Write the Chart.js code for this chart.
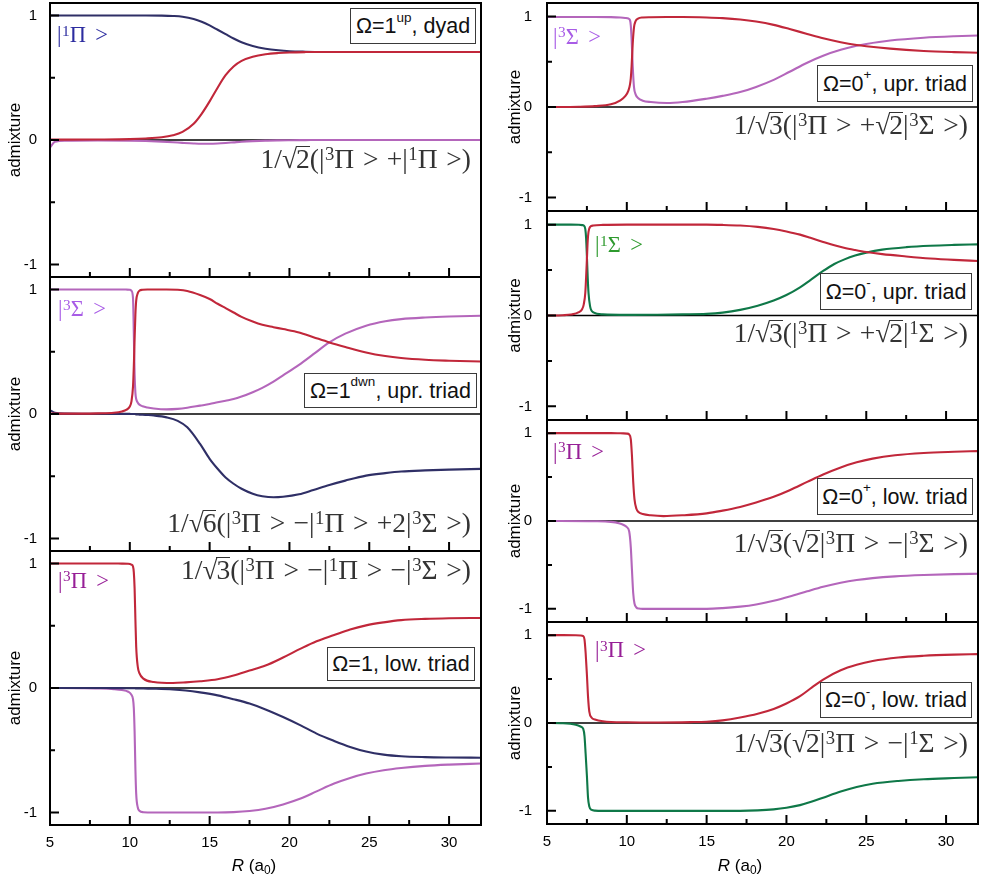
<!DOCTYPE html>
<html>
<head>
<meta charset="utf-8">
<script src="https://cdn.jsdelivr.net/npm/chart.js@4.4.1/dist/chart.umd.min.js"></script>
<style>
 html,body{margin:0;padding:0;background:#fff;}
 #wrap{position:relative;width:981px;height:882px;overflow:hidden;background:#fff;}
 #wrap canvas{position:absolute;}
 .box{position:absolute;box-sizing:border-box;border:1.5px solid #3a3a3a;background:#fff;font-family:'Liberation Sans',Arial,sans-serif;font-size:21.5px;color:#111;display:flex;align-items:center;justify-content:center;white-space:nowrap;line-height:24px;}
 .box sup{font-size:13.5px;line-height:0;position:relative;top:-8.5px;vertical-align:baseline;}
 .math{position:absolute;font-family:'Liberation Serif','Times New Roman',serif;font-size:27.5px;color:#333;white-space:nowrap;line-height:30px;}
 .ket{position:absolute;font-family:'Liberation Serif','Times New Roman',serif;font-size:22.5px;white-space:nowrap;line-height:24px;}
 .math sup,.ket sup{font-size:0.68em;line-height:0;position:relative;top:-0.42em;vertical-align:baseline;margin-left:0.03em;}
 .rel{margin-left:0.32em;}
 .ket .rel{margin-left:0.42em;}
 .op{margin-left:0.3em;}
 .rn{display:inline-block;line-height:0.78em;border-top:1.4px solid currentColor;padding-top:0.05em;margin-left:-0.04em;}
 .xt{position:absolute;width:120px;text-align:center;font-family:'Liberation Sans',Arial,sans-serif;font-size:17px;line-height:20px;color:#000;}
 .xt sub{font-size:0.7em;line-height:0;position:relative;top:0.25em;vertical-align:baseline;}
</style>
</head>
<body>
<div id="wrap"></div>
<script>
// ---------- tick values ----------
const xMajorTicks = [5, 10, 15, 20, 25, 30];
const xMinorTicks = [7.5, 12.5, 17.5, 22.5, 27.5];
const yMajorTicks = [-1, 0, 1];
const yMinorTicks = [-0.5, 0.5];

// ---------- left column, panel 1 : Omega=1 up, dyad ----------
const R_L1      = [5, 5.3, 6, 8, 10, 11, 12, 12.7, 13.3, 14, 14.5, 15, 15.5, 16, 16.5, 17, 17.7, 18.5, 19.3, 20, 21, 22, 24, 28, 32];
const L1_red    = [0.003, 0.003, 0.003, 0.004, 0.007, 0.012, 0.022, 0.038, 0.065, 0.13, 0.21, 0.31, 0.42, 0.52, 0.59, 0.635, 0.668, 0.688, 0.698, 0.703, 0.706, 0.707, 0.707, 0.707, 0.707];
const L1_navy   = [1, 1, 1, 1, 1, 1, 0.999, 0.996, 0.99, 0.972, 0.95, 0.92, 0.885, 0.85, 0.815, 0.785, 0.755, 0.733, 0.72, 0.713, 0.709, 0.707, 0.707, 0.707, 0.707];
const L1_purple = [-0.06, -0.015, -0.005, -0.003, -0.005, -0.008, -0.013, -0.018, -0.023, -0.028, -0.03, -0.03, -0.028, -0.024, -0.019, -0.014, -0.009, -0.005, -0.003, -0.002, -0.001, 0, 0, 0, 0];

// ---------- left column, panel 2 : Omega=1 dwn, upper triad ----------
const R_L2      = [5, 5.3, 6, 7, 8, 9, 9.5, 9.8, 10, 10.1, 10.2, 10.25, 10.3, 10.35, 10.4, 10.5, 10.6, 10.8, 11.1, 11.5, 12.3, 13, 13.6, 14.4, 15, 15.5, 16, 16.5, 17, 17.7, 18.3, 19, 19.6, 20.6, 21.5, 22.5, 23.5, 24.8, 26, 27, 28.5, 30, 32];
const L2_red    = [0.003, 0.003, 0.003, 0.003, 0.005, 0.01, 0.02, 0.035, 0.06, 0.1, 0.22, 0.38, 0.6, 0.8, 0.91, 0.97, 0.99, 0.997, 1, 1, 1, 0.997, 0.987, 0.955, 0.923, 0.885, 0.85, 0.815, 0.78, 0.742, 0.716, 0.697, 0.682, 0.655, 0.617, 0.575, 0.538, 0.494, 0.465, 0.449, 0.435, 0.428, 0.422];
const L2_purple = [1, 1, 1, 1, 1, 1, 1, 0.999, 0.997, 0.99, 0.93, 0.65, 0.32, 0.17, 0.12, 0.09, 0.075, 0.062, 0.052, 0.044, 0.037, 0.041, 0.05, 0.067, 0.08, 0.094, 0.107, 0.12, 0.14, 0.175, 0.21, 0.26, 0.31, 0.395, 0.48, 0.575, 0.645, 0.709, 0.745, 0.762, 0.775, 0.783, 0.789];
const L2_navy   = [0.03, 0.01, 0.003, 0.002, 0.002, 0.001, 0.001, 0.001, 0.001, 0, 0, 0, 0, -0.002, -0.003, -0.004, -0.005, -0.006, -0.008, -0.012, -0.027, -0.055, -0.107, -0.24, -0.36, -0.44, -0.51, -0.56, -0.6, -0.64, -0.66, -0.669, -0.665, -0.645, -0.61, -0.57, -0.535, -0.495, -0.475, -0.462, -0.453, -0.447, -0.441];

// ---------- left column, panel 3 : Omega=1, lower triad ----------
const R_L3      = [5, 7, 8, 9, 9.5, 9.9, 10.1, 10.2, 10.25, 10.3, 10.35, 10.4, 10.5, 10.6, 10.85, 11.5, 12.7, 13.5, 14.4, 15.5, 16.5, 17.5, 18.5, 19.6, 20.7, 21.7, 22.8, 23.8, 24.8, 25.9, 27, 28.5, 30, 32];
const L3_red    = [1, 1, 1, 1, 0.999, 0.998, 0.99, 0.975, 0.93, 0.8, 0.55, 0.33, 0.17, 0.12, 0.075, 0.048, 0.04, 0.045, 0.054, 0.07, 0.1, 0.14, 0.18, 0.245, 0.316, 0.375, 0.425, 0.47, 0.503, 0.527, 0.545, 0.555, 0.56, 0.562];
const L3_navy   = [0, 0, 0, -0.001, -0.001, -0.002, -0.002, -0.002, -0.002, -0.002, -0.003, -0.003, -0.003, -0.003, -0.004, -0.006, -0.012, -0.02, -0.035, -0.059, -0.09, -0.125, -0.172, -0.233, -0.3, -0.366, -0.425, -0.473, -0.51, -0.535, -0.548, -0.555, -0.558, -0.56];
const L3_purple = [0, -0.002, -0.004, -0.009, -0.016, -0.03, -0.055, -0.09, -0.16, -0.35, -0.65, -0.85, -0.96, -0.985, -0.997, -1, -1, -1, -1, -1, -0.997, -0.988, -0.97, -0.935, -0.888, -0.83, -0.767, -0.722, -0.687, -0.66, -0.642, -0.625, -0.615, -0.606];

// ---------- right column, panel 1 : Omega=0+, upper triad ----------
const R_R1      = [5, 7, 8, 9, 9.6, 9.9, 10.1, 10.2, 10.25, 10.3, 10.37, 10.45, 10.55, 10.7, 11, 11.5, 12.5, 13.5, 15, 16, 17.1, 18.1, 19.2, 20.2, 21.3, 22.3, 23.4, 24.4, 25, 26.5, 28.6, 30.5, 32];
const R1_red    = [0, 0.003, 0.01, 0.03, 0.074, 0.12, 0.18, 0.25, 0.32, 0.45, 0.7, 0.88, 0.95, 0.978, 0.99, 0.993, 0.995, 0.995, 0.99, 0.983, 0.968, 0.945, 0.908, 0.862, 0.808, 0.76, 0.717, 0.686, 0.672, 0.645, 0.62, 0.607, 0.6];
const R1_purple = [0.995, 0.995, 0.995, 0.994, 0.99, 0.985, 0.978, 0.96, 0.9, 0.75, 0.45, 0.22, 0.14, 0.1, 0.07, 0.055, 0.044, 0.055, 0.092, 0.123, 0.165, 0.222, 0.3, 0.39, 0.49, 0.567, 0.632, 0.677, 0.697, 0.735, 0.766, 0.782, 0.79];

// ---------- right column, panel 2 : Omega=0-, upper triad ----------
const R_R2      = [5, 6, 6.5, 7, 7.2, 7.3, 7.4, 7.45, 7.5, 7.55, 7.6, 7.7, 7.9, 8.5, 10, 11.9, 13.5, 15, 16, 17.1, 18.2, 19.2, 20, 20.85, 21.5, 22.3, 23, 23.6, 24.3, 25, 26, 27.5, 29, 30.5, 32];
const R2_red    = [0, 0.003, 0.01, 0.037, 0.07, 0.12, 0.25, 0.42, 0.62, 0.82, 0.92, 0.975, 0.99, 0.997, 1, 1, 1, 1, 0.997, 0.99, 0.975, 0.952, 0.925, 0.89, 0.855, 0.81, 0.772, 0.745, 0.72, 0.698, 0.675, 0.65, 0.628, 0.612, 0.6];
const R2_green  = [1, 1, 1, 0.998, 0.995, 0.99, 0.95, 0.85, 0.65, 0.42, 0.25, 0.1, 0.035, 0.012, 0.007, 0.008, 0.012, 0.018, 0.032, 0.062, 0.108, 0.165, 0.225, 0.31, 0.39, 0.49, 0.567, 0.615, 0.66, 0.692, 0.725, 0.752, 0.768, 0.777, 0.783];

// ---------- right column, panel 3 : Omega=0+, lower triad ----------
const R_R3      = [5, 8, 9, 9.5, 9.8, 10, 10.15, 10.25, 10.32, 10.4, 10.48, 10.6, 10.75, 11, 11.5, 12.3, 13.5, 15, 16, 17.1, 18.1, 19.2, 20.2, 21.3, 22.3, 23.4, 24.4, 25.4, 26.8, 28.6, 30.5, 32];
const R3_red    = [1, 1, 1, 0.999, 0.998, 0.995, 0.985, 0.93, 0.75, 0.45, 0.25, 0.14, 0.1, 0.08, 0.065, 0.056, 0.065, 0.087, 0.118, 0.16, 0.21, 0.275, 0.35, 0.445, 0.53, 0.61, 0.668, 0.71, 0.748, 0.774, 0.788, 0.796];
const R3_purple = [0, -0.003, -0.01, -0.025, -0.045, -0.07, -0.12, -0.3, -0.55, -0.82, -0.94, -0.985, -0.997, -1, -1, -1, -1, -1, -0.992, -0.975, -0.95, -0.908, -0.86, -0.8, -0.748, -0.703, -0.672, -0.65, -0.63, -0.615, -0.605, -0.6];

// ---------- right column, panel 4 : Omega=0-, lower triad ----------
const R_R4      = [5, 6, 6.8, 7.1, 7.27, 7.35, 7.42, 7.5, 7.57, 7.65, 7.8, 8, 8.5, 10, 12, 14, 15, 16, 17.1, 18.2, 19.2, 20, 20.85, 21.6, 22.3, 23.4, 24.4, 25.4, 27, 28.6, 30.5, 32];
const R4_red    = [1, 1, 0.999, 0.997, 0.99, 0.95, 0.8, 0.55, 0.3, 0.13, 0.06, 0.04, 0.02, 0.008, 0.006, 0.01, 0.015, 0.03, 0.062, 0.105, 0.16, 0.222, 0.305, 0.405, 0.495, 0.6, 0.662, 0.705, 0.745, 0.765, 0.778, 0.784];
const R4_green  = [0, -0.003, -0.02, -0.04, -0.068, -0.15, -0.35, -0.6, -0.85, -0.95, -0.99, -0.998, -1, -1, -1, -1, -1, -1, -1, -0.995, -0.983, -0.965, -0.935, -0.895, -0.85, -0.78, -0.728, -0.692, -0.66, -0.64, -0.627, -0.618];

// ---------- colours ----------
const C_RED = '#c1273a', C_NAVY = '#2f2f66', C_PURPLE = '#b466bb', C_GREEN = '#0f7848';

// ---------- layout of the panels ----------
const COLS = [
  {canvasLeft: 0,   canvasWidth: 490, areaLeft: 50,  areaRight: 481, tickPad: 13, titlePad: 5},
  {canvasLeft: 490, canvasWidth: 491, areaLeft: 547, areaRight: 978, tickPad: 15, titlePad: 15}
];
const panelDefs = [
  {col: 0, top: 3,   bottom: 277, ymin: -1.1,  ymax: 1.1,  axis: false, ds: [[R_L1, L1_red, C_RED], [R_L1, L1_navy, C_NAVY], [R_L1, L1_purple, C_PURPLE]]},
  {col: 0, top: 277, bottom: 551, ymin: -1.1,  ymax: 1.1,  axis: false, ds: [[R_L2, L2_red, C_RED], [R_L2, L2_purple, C_PURPLE], [R_L2, L2_navy, C_NAVY]]},
  {col: 0, top: 551, bottom: 825, ymin: -1.1,  ymax: 1.1,  axis: true,  ds: [[R_L3, L3_red, C_RED], [R_L3, L3_navy, C_NAVY], [R_L3, L3_purple, C_PURPLE]]},
  {col: 1, top: 3,   bottom: 211, ymin: -1.15, ymax: 1.15, axis: false, ds: [[R_R1, R1_red, C_RED], [R_R1, R1_purple, C_PURPLE]]},
  {col: 1, top: 211, bottom: 420, ymin: -1.15, ymax: 1.15, axis: false, ds: [[R_R2, R2_red, C_RED], [R_R2, R2_green, C_GREEN]]},
  {col: 1, top: 420, bottom: 622, ymin: -1.15, ymax: 1.15, axis: false, ds: [[R_R3, R3_red, C_RED], [R_R3, R3_purple, C_PURPLE]]},
  {col: 1, top: 622, bottom: 824, ymin: -1.15, ymax: 1.15, axis: true,  ds: [[R_R4, R4_red, C_RED], [R_R4, R4_green, C_GREEN]]}
];

const FONT_SANS = "'Liberation Sans', Arial, sans-serif";

const framePlugin = {
  id: 'frame',
  beforeDatasetsDraw(chart) {
    const {ctx, chartArea: a, scales: {y}} = chart;
    const y0 = y.getPixelForValue(0);
    ctx.save();
    ctx.strokeStyle = '#000';
    ctx.lineWidth = 1.6;
    ctx.beginPath(); ctx.moveTo(a.left, y0); ctx.lineTo(a.right, y0); ctx.stroke();
    ctx.restore();
  },
  afterDatasetsDraw(chart) {
    const {ctx, chartArea: a, scales: {x, y}} = chart;
    ctx.save();
    ctx.strokeStyle = '#000';
    ctx.lineWidth = 2;
    ctx.beginPath();
    xMajorTicks.forEach(v => { const p = x.getPixelForValue(v); ctx.moveTo(p, a.bottom); ctx.lineTo(p, a.bottom - 9); });
    xMinorTicks.forEach(v => { const p = x.getPixelForValue(v); ctx.moveTo(p, a.bottom); ctx.lineTo(p, a.bottom - 5); });
    yMajorTicks.forEach(v => { const p = y.getPixelForValue(v); ctx.moveTo(a.left, p); ctx.lineTo(a.left + 9, p); });
    yMinorTicks.forEach(v => { const p = y.getPixelForValue(v); ctx.moveTo(a.left, p); ctx.lineTo(a.left + 5, p); });
    ctx.stroke();
    ctx.strokeRect(a.left, a.top, a.right - a.left, a.bottom - a.top);
    ctx.restore();
  }
};

const wrap = document.getElementById('wrap');

panelDefs.forEach(p => {
  const c = COLS[p.col];
  const padT = 6;
  const cTop = p.top - padT;
  const cHeight = p.axis ? 882 - cTop : (p.bottom - p.top) + 12;
  const padB = p.axis ? 882 - p.bottom : 6;
  const padL = c.areaLeft - c.canvasLeft;
  const padR = c.canvasLeft + c.canvasWidth - c.areaRight;
  const cv = document.createElement('canvas');
  cv.width = c.canvasWidth; cv.height = cHeight;
  cv.style.left = c.canvasLeft + 'px'; cv.style.top = cTop + 'px';
  cv.style.width = c.canvasWidth + 'px'; cv.style.height = cHeight + 'px';
  wrap.appendChild(cv);

  const datasets = p.ds.map(([rs, vs, col]) => ({
    data: rs.map((r, i) => ({x: r, y: vs[i]})),
    borderColor: col,
    borderWidth: 2.1,
    pointRadius: 0,
    fill: false,
    cubicInterpolationMode: 'monotone'
  }));

  new Chart(cv, {
    type: 'line',
    data: {datasets},
    plugins: [framePlugin],
    options: {
      responsive: false,
      animation: false,
      devicePixelRatio: 1,
      events: [],
      layout: {padding: {top: padT, right: padR, bottom: 0, left: 0}},
      plugins: {legend: {display: false}, tooltip: {enabled: false}},
      scales: {
        x: {
          type: 'linear', min: 5, max: 32,
          afterBuildTicks: s => { s.ticks = xMajorTicks.map(v => ({value: v})); },
          afterFit: s => { s.height = padB; s.paddingLeft = 0; s.paddingRight = 0; },
          grid: {display: false, drawTicks: false},
          border: {display: false},
          ticks: {display: p.axis, autoSkip: false, maxRotation: 0, padding: 9, color: '#000',
                  font: {family: FONT_SANS, size: 15}, callback: v => String(v)}
        },
        y: {
          type: 'linear', min: p.ymin, max: p.ymax,
          afterBuildTicks: s => { s.ticks = yMajorTicks.map(v => ({value: v})); },
          afterFit: s => { s.width = padL; s.paddingTop = 0; s.paddingBottom = 0; },
          grid: {display: false, drawTicks: false},
          border: {display: false},
          ticks: {autoSkip: false, padding: c.tickPad, color: '#000',
                  font: {family: FONT_SANS, size: 15}, callback: v => (v < 0 ? '-' + Math.abs(v) : String(v))},
          title: {display: true, text: 'admixture', color: '#000',
                  font: {family: FONT_SANS, size: 17}, padding: {top: c.titlePad, bottom: 0}}
        }
      }
    }
  });
});

// ---------- annotations (HTML text) ----------
function ket(n, sym) { return '|<sup>' + n + '</sup>' + sym + '<span class="rel">&gt;</span>'; }
function rad(n) { return '<span class="rad">√<span class="rn">' + n + '</span></span>'; }
function op(s) { return '<span class="op">' + s + '</span>'; }

const mathLabels = [
  {right: 471, cy: 162, html: '1/' + rad(2) + '(' + ket(3, 'Π') + op('+') + ket(1, 'Π') + ')'},
  {right: 471, cy: 526, html: '1/' + rad(6) + '(' + ket(3, 'Π') + op('−') + ket(1, 'Π') + op('+') + '2' + ket(3, 'Σ') + ')'},
  {right: 471, cy: 573, html: '1/' + rad(3) + '(' + ket(3, 'Π') + op('−') + ket(1, 'Π') + op('−') + ket(3, 'Σ') + ')'},
  {right: 968, cy: 128, html: '1/' + rad(3) + '(' + ket(3, 'Π') + op('+') + rad(2) + ket(3, 'Σ') + ')'},
  {right: 968, cy: 336, html: '1/' + rad(3) + '(' + ket(3, 'Π') + op('+') + rad(2) + ket(1, 'Σ') + ')'},
  {right: 968, cy: 546, html: '1/' + rad(3) + '(' + rad(2) + ket(3, 'Π') + op('−') + ket(3, 'Σ') + ')'},
  {right: 968, cy: 746, html: '1/' + rad(3) + '(' + rad(2) + ket(3, 'Π') + op('−') + ket(1, 'Σ') + ')'}
];
mathLabels.forEach(m => {
  const d = document.createElement('div');
  d.className = 'math';
  d.innerHTML = m.html;
  d.style.right = (981 - m.right) + 'px';
  d.style.top = (m.cy - 17.7) + 'px';
  wrap.appendChild(d);
});

const ketLabels = [
  {left: 57,  cy: 37.5,  color: '#2d2da0', n: 1, sym: 'Π'},
  {left: 58,  cy: 311.7, color: '#a85ce6', n: 3, sym: 'Σ'},
  {left: 58,  cy: 583.3, color: '#971f97', n: 3, sym: 'Π'},
  {left: 553, cy: 39,    color: '#a85ce6', n: 3, sym: 'Σ'},
  {left: 595, cy: 247.5, color: '#2e9a2e', n: 1, sym: 'Σ'},
  {left: 553, cy: 454,   color: '#971f97', n: 3, sym: 'Π'},
  {left: 595, cy: 652.5, color: '#971f97', n: 3, sym: 'Π'}
];
ketLabels.forEach(k => {
  const d = document.createElement('div');
  d.className = 'ket';
  d.innerHTML = ket(k.n, k.sym);
  d.style.left = k.left + 'px';
  d.style.top = (k.cy - 14.4) + 'px';
  d.style.color = k.color;
  wrap.appendChild(d);
});

const boxLabels = [
  {l: 350, t: 8,   w: 126, h: 36, html: 'Ω=1<sup>up</sup>, dyad'},
  {l: 304, t: 373, w: 173, h: 35, html: 'Ω=1<sup>dwn</sup>, upr. triad'},
  {l: 327, t: 647, w: 148, h: 34, html: 'Ω=1, low. triad'},
  {l: 817, t: 65,  w: 156, h: 37, html: 'Ω=0<sup>+</sup>, upr. triad'},
  {l: 820, t: 273, w: 152, h: 37, html: 'Ω=0<sup>-</sup>, upr. triad'},
  {l: 817, t: 478, w: 156, h: 37, html: 'Ω=0<sup>+</sup>, low. triad'},
  {l: 820, t: 682, w: 152, h: 36, html: 'Ω=0<sup>-</sup>, low. triad'}
];
boxLabels.forEach(b => {
  const d = document.createElement('div');
  d.className = 'box';
  d.innerHTML = b.html;
  d.style.left = b.l + 'px'; d.style.top = b.t + 'px';
  d.style.width = b.w + 'px'; d.style.height = b.h + 'px';
  wrap.appendChild(d);
});

[{cx: 254}, {cx: 740}].forEach(t => {
  const d = document.createElement('div');
  d.className = 'xt';
  d.innerHTML = '<i>R</i> (a<sub>0</sub>)';
  d.style.left = (t.cx - 60) + 'px';
  d.style.top = '856px';
  wrap.appendChild(d);
});
</script>
</body>
</html>
